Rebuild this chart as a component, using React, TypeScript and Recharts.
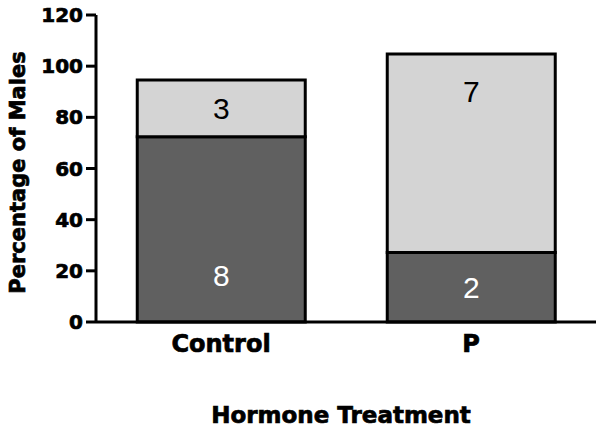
import { Bar, BarChart, LabelList, XAxis, YAxis } from "recharts";

const treatments = ["Control", "P"];
const dominantPct = [72.4, 27.2];
const otherPct = [22.2, 77.6];
const dominantN = [8, 2];
const otherN = [3, 7];
const yTicks = [0, 20, 40, 60, 80, 100, 120];

const data = treatments.map((name, i) => ({
  name,
  dominant: dominantPct[i],
  other: otherPct[i],
  dominantN: dominantN[i],
  otherN: otherN[i],
}));

const boldFont = "'DejaVu Sans', sans-serif";
const plainFont = "'Liberation Sans', Arial, sans-serif";

function DarkLabel(props: any) {
  const { x, y, width, height, value } = props;
  const cy = Math.max(y + height / 2, y + height - 47);
  return (
    <text x={x + width / 2} y={cy} textAnchor="middle" dominantBaseline="central" fill="#fff" fontSize={30} fontFamily={plainFont}>
      {value}
    </text>
  );
}

function LightLabel(props: any) {
  const { x, y, width, height, value } = props;
  const cy = Math.min(y + height / 2, y + 38);
  return (
    <text x={x + width / 2} y={cy} textAnchor="middle" dominantBaseline="central" fill="#000" fontSize={30} fontFamily={plainFont}>
      {value}
    </text>
  );
}

function YTitle(props: any) {
  const { viewBox } = props;
  const cy = viewBox.y + viewBox.height / 2 + 4;
  return (
    <text x={25} y={cy} transform={`rotate(-90, 25, ${cy})`} textAnchor="middle" fontSize={21} fontWeight="bold" fontFamily={boldFont} fill="#000" stroke="#000" strokeWidth={0.7}>
      Percentage of Males
    </text>
  );
}

function XTitle(props: any) {
  const { viewBox } = props;
  return (
    <text x={viewBox.x + viewBox.width / 2 - 5} y={423} textAnchor="middle" fontSize={23} fontWeight="bold" fontFamily={boldFont} fill="#000" stroke="#000" strokeWidth={0.7}>
      Hormone Treatment
    </text>
  );
}

export default function App() {
  return (
    <div style={{ position: "absolute", left: 0, top: 0, background: "#fff" }}>
      <BarChart width={602} height={432} data={data} margin={{ top: 15, right: 6, bottom: 0, left: 0 }} barCategoryGap="16.5%">
        <XAxis
          dataKey="name"
          height={110}
          tickLine={false}
          tickSize={0}
          tickMargin={13}
          axisLine={{ stroke: "#000", strokeWidth: 3 }}
          tick={{ fill: "#000", stroke: "#000", strokeWidth: 0.7, fontSize: 24, fontWeight: "bold", fontFamily: boldFont }}
          label={XTitle}
        />
        <YAxis
          width={96}
          domain={[0, 120]}
          ticks={yTicks}
          tickSize={10}
          tickMargin={3}
          axisLine={{ stroke: "#000", strokeWidth: 3 }}
          tickLine={{ stroke: "#000", strokeWidth: 3 }}
          tick={{ fill: "#000", stroke: "#000", strokeWidth: 0.7, fontSize: 20, fontWeight: "bold", fontFamily: boldFont }}
          label={YTitle}
        />
        <Bar dataKey="dominant" stackId="a" fill="#606060" stroke="#000" strokeWidth={3} isAnimationActive={false}>
          <LabelList dataKey="dominantN" content={DarkLabel} />
        </Bar>
        <Bar dataKey="other" stackId="a" fill="#d4d4d4" stroke="#000" strokeWidth={3} isAnimationActive={false}>
          <LabelList dataKey="otherN" content={LightLabel} />
        </Bar>
      </BarChart>
    </div>
  );
}
